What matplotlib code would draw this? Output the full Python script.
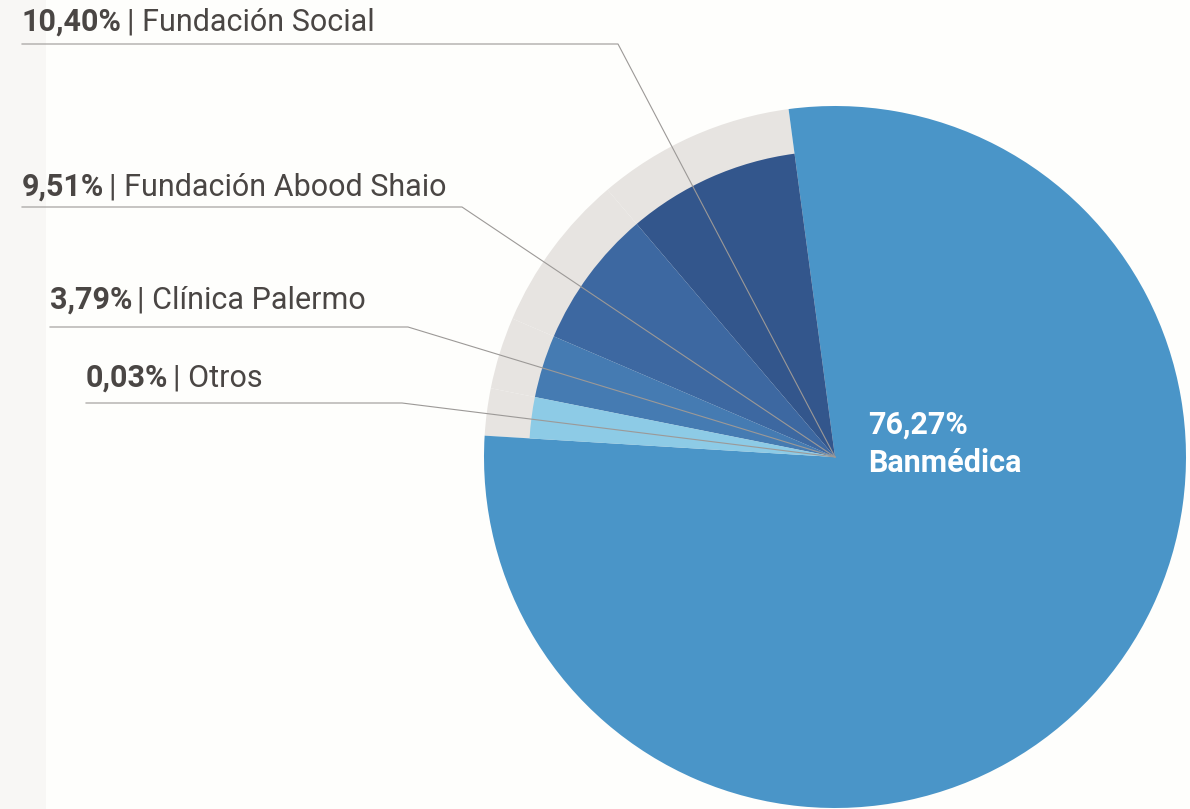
import matplotlib.pyplot as plt

# slice order counter-clockwise starting from the top of the small group
names = ['Fundación Social', 'Fundación Abood Shaio', 'Clínica Palermo', 'Otros', 'Banmédica']
pct_labels = ['10,40%', '9,51%', '3,79%', '0,03%', '76,27%']
# angular share of each slice as drawn in the picture (small slices are exaggerated)
drawn_share = [9.11, 7.33, 3.31, 2.17, 78.08]
colors = ['#33568c', '#3d68a1', '#457bb2', '#8dcbe6', '#4a95c8']

W, H = 1190, 809
fig = plt.figure(figsize=(W / 100, H / 100), dpi=100)
fig.patch.set_facecolor('#fefefc')
ax = fig.add_axes([0, 0, 1, 1])

# faint strip on the left edge
ax.add_patch(plt.Rectangle((0, 0), 46, H, color='#f8f7f5', zorder=0, lw=0))

cx, cy = 835, H - 457
R_out, R_in = 351, 306

# outer pie: Banmédica full size, grey ring behind the small slices
ring_cols = ['#e7e4e1'] * 4 + [colors[4]]
ax.pie(drawn_share, colors=ring_cols, startangle=97.6, counterclock=True,
       radius=R_out, center=(cx, cy), frame=True, wedgeprops=dict(lw=0))
# inner pie: the small slices at a smaller radius
inner_cols = colors[:4] + ['none']
ax.pie(drawn_share, colors=inner_cols, startangle=97.6, counterclock=True,
       radius=R_in, center=(cx, cy), frame=True, wedgeprops=dict(lw=0))
ax.set_xlim(0, W)
ax.set_ylim(0, H)
ax.set_aspect('equal')
ax.axis('off')

txt_col = '#4a4644'
font = 'Roboto'
# label layout: (text x, text y in px from top, line y, line end x)
layout = [(22, 22, 44, 618), (22, 187, 207, 462), (50, 300, 327, 408), (86, 378, 403, 402)]

fig.canvas.draw()
renderer = fig.canvas.get_renderer()
inv = ax.transData.inverted()
for i, (tx, ty, ly, lx) in enumerate(layout):
    t = ax.text(tx, H - ty, pct_labels[i], fontsize=22, fontweight='bold', color=txt_col,
                ha='left', va='center', family=font)
    bb = t.get_window_extent(renderer)
    x1 = inv.transform((bb.x1, bb.y1))[0]
    ax.text(x1 + 5, H - ty, '| ' + names[i], fontsize=22, color=txt_col,
            ha='left', va='center', family=font)
    ax.plot([tx, lx, cx], [H - ly, H - ly, cy], color='#9c9997', lw=0.8, zorder=5)

ax.text(868, H - 425, pct_labels[4], fontsize=22, fontweight='bold', color='white',
        ha='left', va='center', family=font)
ax.text(868, H - 463, names[4], fontsize=22, fontweight='bold', color='white',
        ha='left', va='center', family=font)

fig.savefig('out.png', dpi=100, facecolor=fig.get_facecolor())
